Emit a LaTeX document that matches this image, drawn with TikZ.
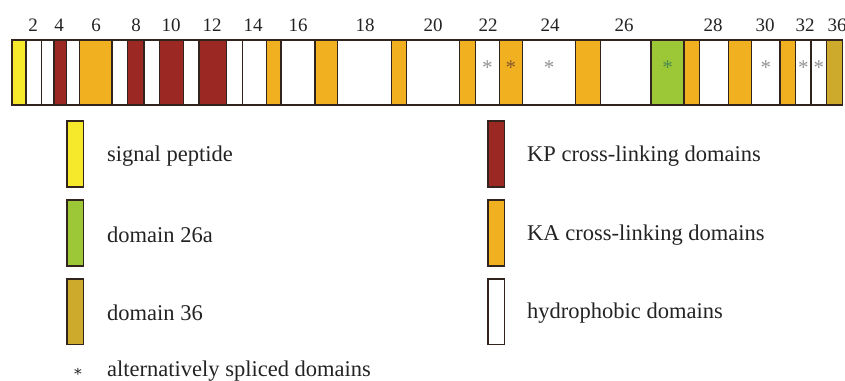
\documentclass[tikz,border=0pt]{standalone}
\usepackage{fontspec}
\setmainfont{Liberation Serif}
\newfontfamily\symfnt{DejaVu Serif}
\definecolor{cY}{RGB}{246,232,42}
\definecolor{cR}{RGB}{155,40,34}
\definecolor{cO}{RGB}{240,176,32}
\definecolor{cG}{RGB}{156,200,56}
\definecolor{cV}{RGB}{206,170,44}
\definecolor{cW}{RGB}{255,255,255}
\definecolor{edge}{RGB}{50,36,28}
\definecolor{txt}{RGB}{35,35,35}
\tikzset{
  seg/.style={draw=edge,line width=1.5pt},
  num/.style={font=\fontsize{19}{20}\selectfont,text=txt,inner sep=0pt},
  lab/.style={font=\fontsize{22.5}{26}\selectfont,text=txt,anchor=west,inner sep=0pt},
  starw/.style={font=\fontsize{21}{21}\selectfont,text=gray!85,inner sep=0pt},
  staro/.style={font=\fontsize{21}{21}\selectfont,text=brown!70!black,inner sep=0pt},
  starg/.style={font=\fontsize{21}{21}\selectfont,text=green!35!black!70,inner sep=0pt},
}
\begin{document}
\begin{tikzpicture}[x=1pt,y=-1pt]
\useasboundingbox (0,0) rectangle (845,380);
% bar segments: left/right/colour/star
\foreach \a/\b/\c/\s [count=\i] in {
 12/26/cY/0, 26/41.7/cW/0, 41.7/54/cW/0, 54/66.7/cR/0, 66.7/79.3/cW/0,
 79.3/112/cO/0, 112/127.7/cW/0, 127.7/144/cR/0, 144/159.3/cW/0, 159.3/183.3/cR/0,
 183.3/199/cW/0, 199/226.7/cR/0, 226.7/242.3/cW/0, 242.3/266.7/cW/0, 266.7/281/cO/0,
 281/315/cW/0, 315/337.7/cO/0, 337.7/391.7/cW/0, 391.7/406.7/cO/0, 406.7/459.3/cW/0,
 459.3/475.3/cO/0, 475.3/499.3/cW/w, 499.3/522.3/cO/o, 522.3/575.7/cW/w, 575.7/600.3/cO/0,
 600.3/651/cW/0, 651/684/cG/g, 684/699.3/cO/0, 699.3/728.3/cW/0, 728.3/751.7/cO/0,
 751.7/780/cW/w, 780/795.7/cO/0, 795.7/811/cW/w, 811/826.7/cW/w, 826.7/842.3/cV/0}{
  \draw[seg,fill=\c] (\a,40) rectangle (\b,105);
  \coordinate (m\i) at ({(\a+\b)/2},68);
  \if w\s \node[starw] (st\i) at (m\i) {*};\fi
  \if o\s \node[staro] (st\i) at (m\i) {*};\fi
  \if g\s \node[starg] (st\i) at (m\i) {*};\fi
}
% numbers
\foreach \n/\x in {2/33,4/59,6/96,8/136,10/171,12/212,14/253,16/298,18/365,20/433,
  22/488,24/550,26/624,28/713,30/765,32/805,36/837}{
  \node[num] (n\n) at (\x,25.5) {\n};
}
% legend left
\draw[seg,fill=cY] (67,121) rectangle (83.5,187);
\draw[seg,fill=cG] (67,200) rectangle (83.5,266);
\draw[seg,fill=cV] (67,279) rectangle (83.5,344.5);
\node[lab] (l1) at (107,156) {signal peptide};
\node[lab] (l2) at (107,235) {domain 26a};
\node[lab] (l3) at (107,313) {domain 36};
\node[lab] (l4) at (107,371) {alternatively spliced domains};
\coordinate (lsx) at (78,0);
\node[font=\symfnt\fontsize{15}{15}\selectfont,text=txt,inner sep=0pt,anchor=base] (ls) at (lsx |- l4.base) {∗};
% legend right
\draw[seg,fill=cR] (488,121) rectangle (504.5,187);
\draw[seg,fill=cO] (488,200) rectangle (504.5,266);
\draw[seg,fill=cW] (488,279) rectangle (504.5,344.5);
\node[lab] (r1) at (527,156) {KP cross-linking domains};
\node[lab] (r2) at (527,235) {KA cross-linking domains};
\node[lab] (r3) at (527,313) {hydrophobic domains};
\end{tikzpicture}
\end{document}
